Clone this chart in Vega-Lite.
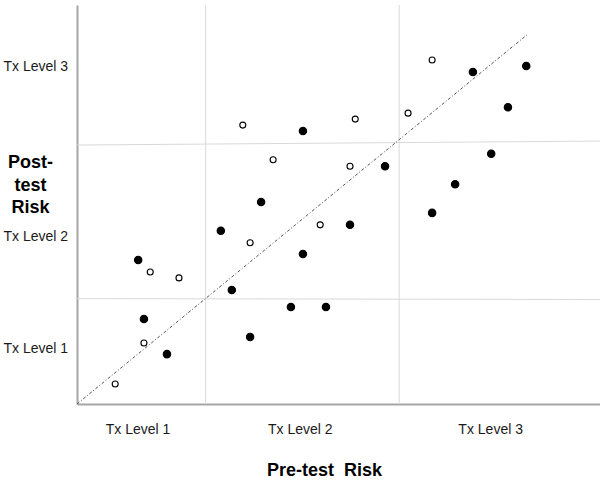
{
  "$schema": "https://vega.github.io/schema/vega-lite/v6.json",
  "width": 523,
  "height": 399,
  "autosize": "none",
  "padding": {"left": 77, "top": 5, "right": 0, "bottom": 76},
  "background": "white",
  "config": {"view": {"stroke": null}, "font": "Liberation Sans"},
  "encoding": {
    "x": {"field": "x", "type": "quantitative", "scale": {"domain": [0, 100], "nice": false, "zero": false},
      "axis": {
        "values": [11.57, 42.6, 79.0],
        "labelExpr": "datum.value < 20 ? 'Tx Level 1' : datum.value < 60 ? 'Tx Level 2' : 'Tx Level 3'",
        "grid": false, "ticks": false, "tickSize": 0,
        "domain": true, "domainColor": "#a6a6a6", "domainWidth": 2,
        "labelFontSize": 14, "labelColor": "#1a1a1a", "labelPadding": 29, "labelBaseline": "alphabetic", "labelAlign": "center",
        "labelFlush": false, "labelOverlap": false,
        "title": "Pre-test\u00a0\u00a0Risk",
        "titleFontSize": 18, "titleFontWeight": "bold", "titleColor": "#000000",
        "titleX": 247, "titleY": 71, "titleAlign": "center", "titleBaseline": "alphabetic"
      }},
    "y": {"field": "y", "type": "quantitative", "scale": {"domain": [0, 100], "nice": false, "zero": false},
      "axis": {
        "values": [14.0, 42.1, 84.5],
        "labelExpr": "datum.value < 20 ? 'Tx Level 1' : datum.value < 60 ? 'Tx Level 2' : 'Tx Level 3'",
        "grid": false, "ticks": false, "tickSize": 0,
        "domain": true, "domainColor": "#a6a6a6", "domainWidth": 2,
        "labelFontSize": 14, "labelColor": "#1a1a1a", "labelPadding": 74, "labelBaseline": "middle", "labelAlign": "left",
        "labelFlush": false, "labelOverlap": false,
        "title": ["Post-", "test", "Risk"],
        "titleFontSize": 18, "titleFontWeight": "bold", "titleColor": "#000000",
        "titleAngle": 0, "titleX": -47, "titleY": 148.7, "titleAlign": "center", "titleBaseline": "top",
        "titleLineHeight": 22.5
      }}
  },
  "layer": [
    {
      "data": {"values": [
        {"x": 24.6, "y": 0, "x2": 24.6, "y2": 100},
        {"x": 61.6, "y": 0, "x2": 61.6, "y2": 100},
        {"x": 0, "y": 26.4, "x2": 100, "y2": 26.2},
        {"x": 0, "y": 64.9, "x2": 100, "y2": 65.9}
      ]},
      "mark": {"type": "rule", "color": "#d9d9d9", "strokeWidth": 1},
      "encoding": {
        "x2": {"field": "x2"},
        "y2": {"field": "y2"}
      }
    },
    {
      "data": {"values": [
        {"x": 0, "y": 0, "x2": 86.2, "y2": 92.7}
      ]},
      "mark": {"type": "rule", "color": "#555555", "strokeWidth": 1, "strokeDash": [3, 2, 1, 2]},
      "encoding": {
        "x2": {"field": "x2"},
        "y2": {"field": "y2"}
      }
    },
    {
      "data": {"values": [
        {"x": 7.3, "y": 5.0, "group": "open"},
        {"x": 12.8, "y": 15.3, "group": "open"},
        {"x": 14.0, "y": 33.1, "group": "open"},
        {"x": 19.5, "y": 31.6, "group": "open"},
        {"x": 31.7, "y": 69.9, "group": "open"},
        {"x": 33.1, "y": 40.4, "group": "open"},
        {"x": 37.5, "y": 61.2, "group": "open"},
        {"x": 46.5, "y": 44.9, "group": "open"},
        {"x": 52.2, "y": 59.6, "group": "open"},
        {"x": 53.2, "y": 71.4, "group": "open"},
        {"x": 63.3, "y": 72.9, "group": "open"},
        {"x": 67.9, "y": 86.2, "group": "open"},
        {"x": 11.7, "y": 36.1, "group": "filled"},
        {"x": 12.8, "y": 21.3, "group": "filled"},
        {"x": 17.2, "y": 12.5, "group": "filled"},
        {"x": 27.5, "y": 43.4, "group": "filled"},
        {"x": 29.6, "y": 28.6, "group": "filled"},
        {"x": 33.1, "y": 16.8, "group": "filled"},
        {"x": 35.2, "y": 50.6, "group": "filled"},
        {"x": 40.9, "y": 24.3, "group": "filled"},
        {"x": 43.2, "y": 68.4, "group": "filled"},
        {"x": 43.2, "y": 37.6, "group": "filled"},
        {"x": 47.6, "y": 24.3, "group": "filled"},
        {"x": 52.2, "y": 44.9, "group": "filled"},
        {"x": 58.9, "y": 59.6, "group": "filled"},
        {"x": 67.9, "y": 47.9, "group": "filled"},
        {"x": 72.3, "y": 55.1, "group": "filled"},
        {"x": 75.7, "y": 83.2, "group": "filled"},
        {"x": 79.2, "y": 62.7, "group": "filled"},
        {"x": 82.4, "y": 74.4, "group": "filled"},
        {"x": 85.9, "y": 84.7, "group": "filled"}
      ]},
      "mark": {"type": "point", "shape": "circle", "filled": true, "stroke": "#000000", "strokeWidth": 1.1, "opacity": 1},
      "encoding": {
        "fill": {"field": "group", "type": "nominal", "scale": {"domain": ["filled", "open"], "range": ["#000000", "#ffffff"]}, "legend": null},
        "size": {"field": "group", "type": "nominal", "scale": {"domain": ["filled", "open"], "range": [55, 36]}, "legend": null}
      }
    }
  ]
}
